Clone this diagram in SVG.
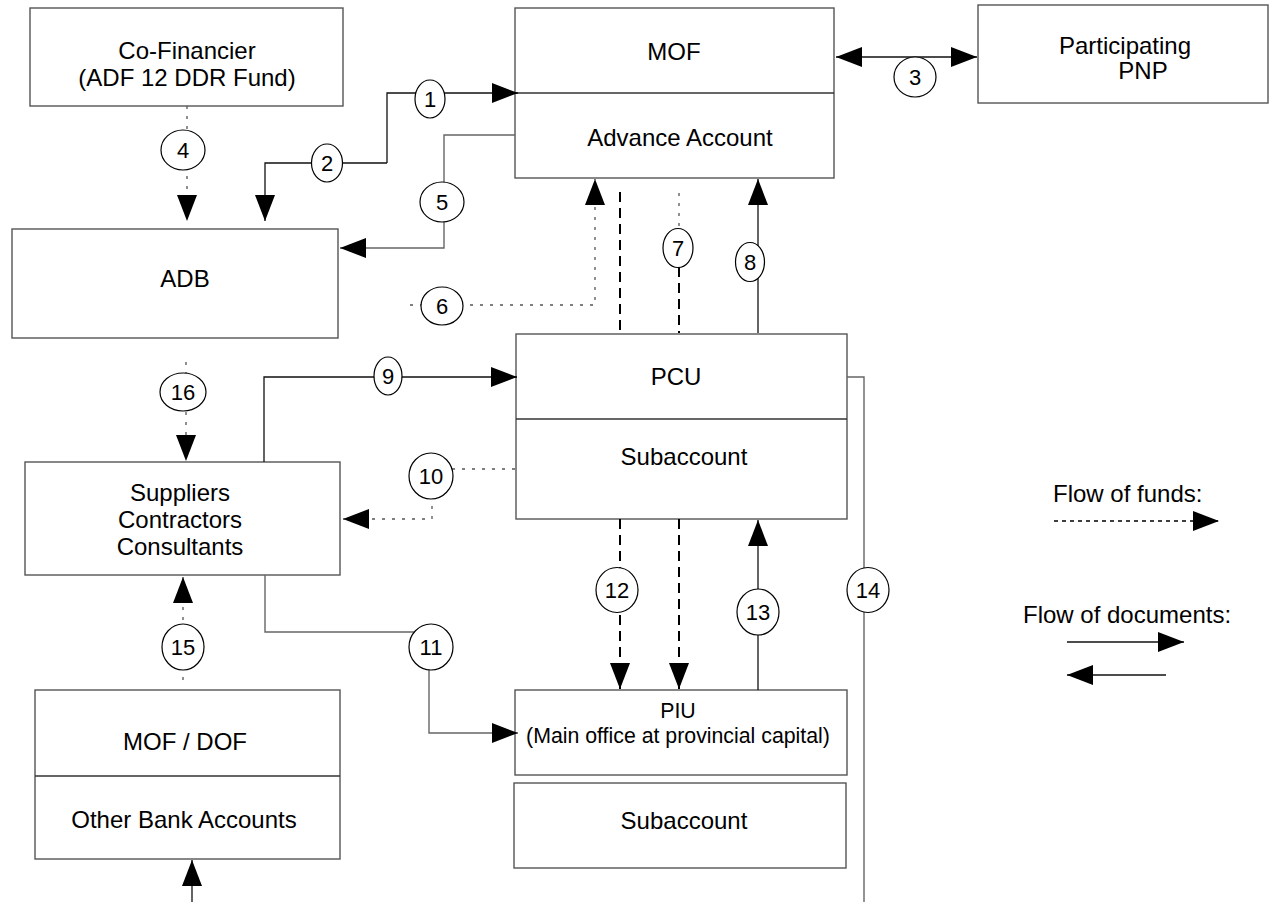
<svg xmlns="http://www.w3.org/2000/svg" width="1272" height="902" viewBox="0 0 1272 902">
<style>
.box{fill:#fff;stroke:#555;stroke-width:1.4}
.div{stroke:#333;stroke-width:1.4}
.t{font-family:"Liberation Sans",Arial,sans-serif;font-size:24px;fill:#000;text-anchor:middle}
.ts{font-family:"Liberation Sans",Arial,sans-serif;font-size:21.3px;fill:#000;text-anchor:middle}
.n{font-family:"Liberation Sans",Arial,sans-serif;font-size:22px;fill:#000;text-anchor:middle}
.c{fill:#fff;stroke:#000;stroke-width:1.2}
.doc{fill:none;stroke:#111;stroke-width:1.3}
.docg{fill:none;stroke:#666;stroke-width:1.4}
.dot{fill:none;stroke:#555;stroke-width:1.3;stroke-dasharray:3 7}
.dash{fill:none;stroke:#000;stroke-width:2;stroke-dasharray:10 6}
.lg{fill:none;stroke:#000;stroke-width:1.3;stroke-dasharray:4 4}
</style>
<defs>
<marker id="ah" viewBox="0 0 26 20" refX="26" refY="10" markerWidth="26" markerHeight="20" markerUnits="userSpaceOnUse" orient="auto-start-reverse">
<path d="M0,0 L26,10 L0,20 z" fill="#000"/>
</marker>
</defs>

<g id="cofinancier">
<rect class="box" x="30" y="8" width="313" height="98"/>
<text class="t" x="187" y="59">Co-Financier</text>
<text class="t" x="187" y="86">(ADF 12 DDR Fund)</text>
</g>
<g id="mof">
<rect class="box" x="515" y="8" width="319" height="170"/>
<line class="div" x1="515" y1="93" x2="834" y2="93"/>
<text class="t" x="674" y="60">MOF</text>
<text class="t" x="680" y="146">Advance Account</text>
</g>
<g id="pnp">
<rect class="box" x="978" y="5" width="290" height="98"/>
<text class="t" x="1125" y="54">Participating</text>
<text class="t" x="1143" y="79">PNP</text>
</g>
<g id="adb">
<rect class="box" x="12" y="229" width="326" height="109"/>
<text class="t" x="185" y="287">ADB</text>
</g>
<g id="pcu">
<rect class="box" x="516" y="334" width="331" height="185"/>
<line class="div" x1="516" y1="419" x2="847" y2="419"/>
<text class="t" x="676" y="385">PCU</text>
<text class="t" x="684" y="465">Subaccount</text>
</g>
<g id="suppliers">
<rect class="box" x="25" y="462" width="315" height="113"/>
<text class="t" x="180" y="501">Suppliers</text>
<text class="t" x="180" y="528">Contractors</text>
<text class="t" x="180" y="555">Consultants</text>
</g>
<g id="piu">
<rect class="box" x="515" y="690" width="332" height="85"/>
<text class="ts" x="678" y="718">PIU</text>
<text class="ts" x="678" y="743">(Main office at provincial capital)</text>
</g>
<g id="piu-subaccount">
<rect class="box" x="514" y="783" width="332" height="85"/>
<text class="t" x="684" y="829">Subaccount</text>
</g>
<g id="mofdof">
<rect class="box" x="35" y="690" width="305" height="169"/>
<line class="div" x1="35" y1="776" x2="340" y2="776"/>
<text class="t" x="185" y="750">MOF / DOF</text>
<text class="t" x="184" y="828">Other Bank Accounts</text>
</g>

<g id="connectors">
<path class="doc" d="M387,163 V93 H518" marker-end="url(#ah)"/>
<path class="doc" d="M387,163 H265 V221" marker-end="url(#ah)"/>
<path class="doc" d="M836,57 H977" marker-start="url(#ah)" marker-end="url(#ah)"/>
<path class="dot" d="M187,106 V221" marker-end="url(#ah)"/>
<path class="docg" d="M515,135 H444 V248 H340" marker-end="url(#ah)"/>
<path class="dot" d="M410,305 H595 V179" marker-end="url(#ah)"/>
<path class="dot" d="M679,193 V228"/>
<path class="dash" d="M679,267 V333"/>
<path class="dash" d="M620,192 V333"/>
<path class="doc" d="M758,333 V179" marker-end="url(#ah)"/>
<path class="doc" d="M264,462 V377 H517" marker-end="url(#ah)"/>
<path class="dot" d="M515,469 H432 V519 H343" marker-end="url(#ah)"/>
<path class="docg" d="M265,575 V632 H429 V733 H518" marker-end="url(#ah)"/>
<path class="dash" d="M620,519 V689" marker-end="url(#ah)"/>
<path class="dash" d="M679,519 V689" marker-end="url(#ah)"/>
<path class="doc" d="M758,690 V520" marker-end="url(#ah)"/>
<path class="docg" d="M847,377 H864 V902"/>
<path class="dot" d="M183,680 V577" marker-end="url(#ah)"/>
<path class="dot" d="M186,362 V461" marker-end="url(#ah)"/>
<path class="doc" d="M192,902 V860" marker-end="url(#ah)"/>
</g>

<g id="labels">
<ellipse class="c" cx="430" cy="99" rx="15" ry="19"/><text class="n" x="430" y="107">1</text>
<ellipse class="c" cx="327" cy="163" rx="15.5" ry="19"/><text class="n" x="327" y="171">2</text>
<ellipse class="c" cx="915" cy="77" rx="21" ry="20"/><text class="n" x="915" y="85">3</text>
<ellipse class="c" cx="183" cy="150" rx="22" ry="20"/><text class="n" x="183" y="158">4</text>
<ellipse class="c" cx="442" cy="202" rx="22" ry="20"/><text class="n" x="442" y="210">5</text>
<ellipse class="c" cx="442" cy="306" rx="21" ry="19"/><text class="n" x="442" y="314">6</text>
<ellipse class="c" cx="678" cy="248" rx="15" ry="19.5"/><text class="n" x="678" y="256">7</text>
<ellipse class="c" cx="750" cy="262" rx="14.5" ry="19.5"/><text class="n" x="750" y="270">8</text>
<ellipse class="c" cx="388" cy="376" rx="14" ry="19"/><text class="n" x="388" y="384">9</text>
<ellipse class="c" cx="431" cy="476" rx="22" ry="23"/><text class="n" x="431" y="484">10</text>
<ellipse class="c" cx="431" cy="647" rx="22" ry="23"/><text class="n" x="431" y="655">11</text>
<ellipse class="c" cx="617" cy="590" rx="21" ry="22.5"/><text class="n" x="617" y="598">12</text>
<ellipse class="c" cx="758" cy="612" rx="21" ry="23"/><text class="n" x="758" y="620">13</text>
<ellipse class="c" cx="868" cy="590" rx="21" ry="22.5"/><text class="n" x="868" y="598">14</text>
<ellipse class="c" cx="183" cy="647" rx="21" ry="23"/><text class="n" x="183" y="655">15</text>
<ellipse class="c" cx="183" cy="392" rx="23" ry="19"/><text class="n" x="183" y="400">16</text>
</g>

<g id="legend">
<text class="t" x="1053" y="502" style="text-anchor:start">Flow of funds:</text>
<path class="lg" d="M1054,521 H1219" marker-end="url(#ah)"/>
<text class="t" x="1023" y="623" style="text-anchor:start">Flow of documents:</text>
<path class="doc" d="M1067,642 H1184" marker-end="url(#ah)"/>
<path class="doc" d="M1166,675 H1067" marker-end="url(#ah)"/>
</g>
</svg>
